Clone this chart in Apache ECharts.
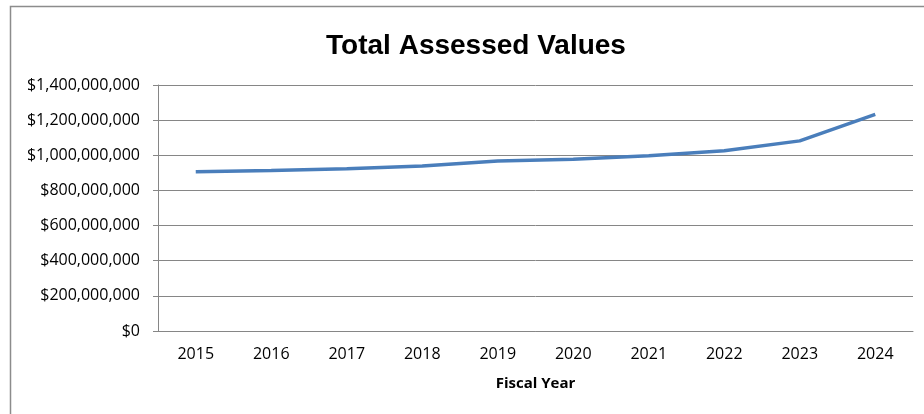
<!DOCTYPE html>
<html>
<head>
<meta charset="utf-8">
<title>Total Assessed Values</title>
<script src="https://cdn.jsdelivr.net/npm/echarts@6/dist/echarts.min.js"></script>
<style>
  html, body { margin: 0; padding: 0; background: #fff; }
  #chart { width: 924px; height: 414px; }
</style>
</head>
<body>
<div id="chart"></div>
<script>
// fiscal years and assessed values
var years = ['2015', '2016', '2017', '2018', '2019', '2020', '2021', '2022', '2023', '2024'];
var assessed = [906000000, 914000000, 924000000, 939000000, 968000000, 978000000, 997000000, 1026000000, 1082000000, 1233000000];

var myChart = echarts.init(document.getElementById('chart'));

function money(v) {
  return '$' + v.toLocaleString('en-US');
}

var option = {
  animation: false,
  // frame around the chart area
  graphic: [{
    type: 'rect',
    shape: { x: 10.5, y: 6.5, width: 1000, height: 1000 },
    style: { fill: 'none', stroke: '#8c8c8c', lineWidth: 1.5 },
    silent: true
  }],
  title: {
    text: 'Total Assessed Values',
    left: 471,
    textAlign: 'center',
    top: 27,
    textStyle: {
      fontFamily: 'Liberation Sans, sans-serif',
      fontSize: 28,
      fontWeight: 'bold',
      color: '#000'
    }
  },
  grid: {
    left: 158,
    right: 11,
    top: 85,
    bottom: 83
  },
  xAxis: {
    type: 'category',
    data: years,
    boundaryGap: true,
    name: 'Fiscal Year',
    nameLocation: 'middle',
    nameGap: 45,
    nameTextStyle: {
      fontFamily: 'Open Sans, sans-serif',
      fontSize: 15,
      fontWeight: 'bold',
      color: '#000'
    },
    axisLine: { lineStyle: { color: '#868686', width: 1 } },
    axisTick: { alignWithLabel: false, length: 5, lineStyle: { color: '#868686' } },
    axisLabel: {
      margin: 15,
      fontFamily: 'Open Sans, sans-serif',
      fontSize: 16,
      color: '#000'
    }
  },
  yAxis: {
    type: 'value',
    min: 0,
    max: 1400000000,
    interval: 200000000,
    axisLine: { show: true, lineStyle: { color: '#868686', width: 1 } },
    axisTick: { show: true, length: 5, lineStyle: { color: '#868686' } },
    splitLine: { lineStyle: { color: '#868686', width: 1 } },
    axisLabel: {
      margin: 18,
      fontFamily: 'Open Sans, sans-serif',
      fontSize: 16,
      color: '#000',
      formatter: money
    }
  },
  series: [{
    name: 'Total Assessed Values',
    type: 'line',
    data: assessed,
    symbol: 'none',
    lineStyle: { color: '#4a7ebb', width: 3.5 }
  }]
};

myChart.setOption(option);
</script>
</body>
</html>
